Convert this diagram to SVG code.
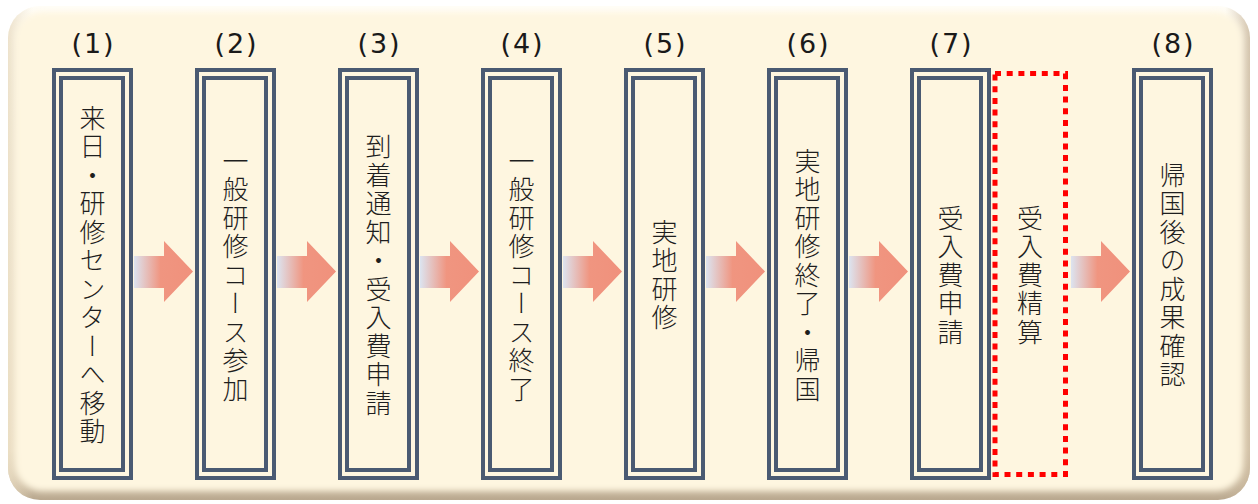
<svg xmlns="http://www.w3.org/2000/svg" width="1258" height="504" viewBox="0 0 1258 504">
<style>
.num{font-family:"DejaVu Sans","Liberation Sans",sans-serif;font-size:27px;fill:#1a1a1a;text-anchor:middle;letter-spacing:2px}
.v{font-family:"Noto Sans CJK JP","Noto Sans CJK SC",sans-serif;font-size:26px;font-weight:300;letter-spacing:2.5px;fill:#1e1e1e;writing-mode:vertical-rl;text-anchor:middle}
.ln{fill:none;stroke:#4A5A72;stroke-width:4}
.dot{fill:none;stroke:#FF0000;stroke-width:5;stroke-dasharray:6 5.7}
.arr{fill:url(#ag)}
</style>
<defs>
<linearGradient id="bg" x1="0" y1="0" x2="0" y2="1">
<stop offset="0" stop-color="#FFFDF7"/>
<stop offset="0.9" stop-color="#EFE2C9"/>
<stop offset="1" stop-color="#B9A88F"/>
</linearGradient>
<linearGradient id="bgx" x1="0" y1="0" x2="1" y2="0">
<stop offset="0" stop-color="#E9DCC2" stop-opacity="0.8"/>
<stop offset="0.02" stop-color="#E9DCC2" stop-opacity="0"/>
<stop offset="0.98" stop-color="#C9B79C" stop-opacity="0"/>
<stop offset="1" stop-color="#C9B79C" stop-opacity="0.8"/>
</linearGradient>
<filter id="soft" x="-5%" y="-5%" width="110%" height="110%"><feGaussianBlur stdDeviation="3"/></filter>
<linearGradient id="ag" x1="0" y1="0" x2="1" y2="0">
<stop offset="0" stop-color="#DCE4F0"/>
<stop offset="0.45" stop-color="#F09580"/>
<stop offset="1" stop-color="#F0917C"/>
</linearGradient>
<g id="box"><rect class="ln" x="2" y="2" width="77" height="408"/><rect class="ln" x="9" y="10" width="62" height="392"/></g>
<path id="arrow" class="arr" d="M0,256 H30 V241 L59,271.5 L30,302 V288 H0 Z"/>
</defs>
<rect x="0" y="0" width="1258" height="504" fill="#FFFFFF"/>
<rect x="8" y="6" width="1242" height="494" rx="32" fill="url(#bg)"/>
<rect x="8" y="6" width="1242" height="494" rx="32" fill="url(#bgx)"/>
<rect x="15" y="12" width="1228" height="479" rx="27" fill="#FEF6E0" filter="url(#soft)"/>
<g id="connectors">
<use href="#arrow" x="134"/>
<use href="#arrow" x="277"/>
<use href="#arrow" x="420"/>
<use href="#arrow" x="563"/>
<use href="#arrow" x="706"/>
<use href="#arrow" x="849"/>
<use href="#arrow" x="1071"/>
</g>
<g id="n1"><use href="#box" x="52" y="68"/><text class="num" x="93.5" y="53">(1)</text><text class="v" x="92.5" y="276">来日・研修センターへ移動</text></g>
<g id="n2"><use href="#box" x="195" y="68"/><text class="num" x="236.5" y="53">(2)</text><text class="v" x="235.5" y="276">一般研修コース参加</text></g>
<g id="n3"><use href="#box" x="338" y="68"/><text class="num" x="379.5" y="53">(3)</text><text class="v" x="378.5" y="276">到着通知・受入費申請</text></g>
<g id="n4"><use href="#box" x="481" y="68"/><text class="num" x="522.5" y="53">(4)</text><text class="v" x="521.5" y="276">一般研修コース終了</text></g>
<g id="n5"><use href="#box" x="624" y="68"/><text class="num" x="665.5" y="53">(5)</text><text class="v" x="664.5" y="276">実地研修</text></g>
<g id="n6"><use href="#box" x="767" y="68"/><text class="num" x="808.5" y="53">(6)</text><text class="v" x="807.5" y="276">実地研修終了・帰国</text></g>
<g id="n7"><use href="#box" x="910" y="68"/><text class="num" x="951.5" y="53">(7)</text><text class="v" x="950.5" y="276">受入費申請</text></g>
<g id="n7b"><rect class="dot" x="995" y="73.5" width="70.5" height="401"/><text class="v" x="1030" y="276">受入費精算</text></g>
<g id="n8"><use href="#box" x="1132" y="68"/><text class="num" x="1173.5" y="53">(8)</text><text class="v" x="1172.5" y="276">帰国後の成果確認</text></g>
</svg>
